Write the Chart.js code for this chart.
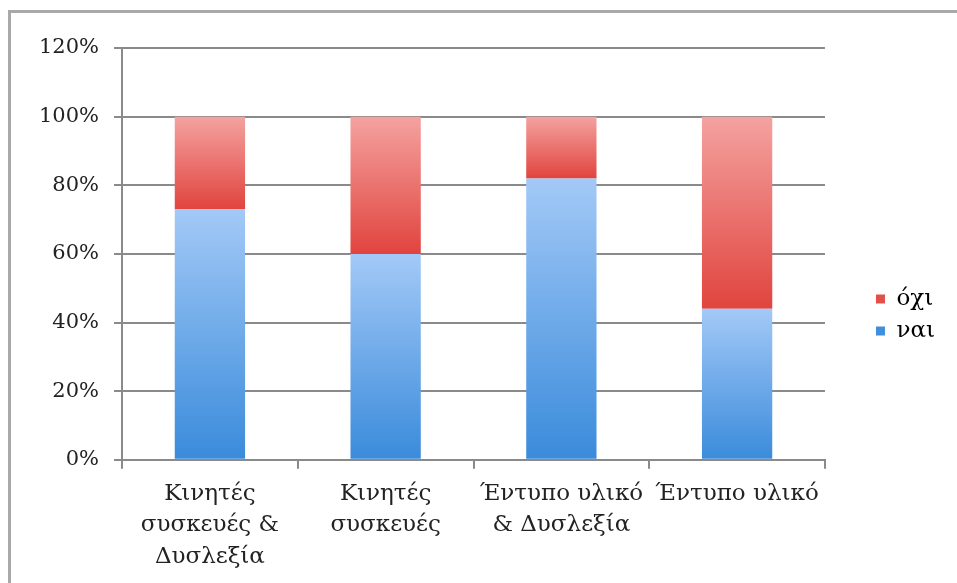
<!DOCTYPE html>
<html>
<head>
<meta charset="utf-8">
<script src="https://cdn.jsdelivr.net/npm/chart.js@4/dist/chart.umd.min.js"></script>
<style>
  html, body { margin: 0; padding: 0; background: #fff; }
  #wrap { position: relative; width: 957px; height: 583px; overflow: hidden; }
  #frame { position: absolute; left: 8px; top: 10px; width: 960px; height: 580px;
           border-left: 3px solid #a9a9a9; border-top: 3px solid #a9a9a9; box-sizing: border-box; }
  #chartBox { position: absolute; left: 0; top: 0; width: 957px; height: 583px; }
</style>
</head>
<body>
<div id="wrap">
  <div id="frame"></div>
  <div id="chartBox"><canvas id="survey"></canvas></div>
</div>
<script>
const categories = [
  ['Κινητές', 'συσκευές &', 'Δυσλεξία'],
  ['Κινητές', 'συσκευές'],
  ['Έντυπο υλικό', '& Δυσλεξία'],
  'Έντυπο υλικό'
]
const yes = [73, 60, 82, 44]
const no = [27, 40, 18, 56]
const yTicks = [0, 20, 40, 60, 80, 100, 120]

const FONT = "'DejaVu Serif', 'Liberation Serif', serif"

// vertical gradient over one stacked segment, light at the top, dark at the bottom
function segmentFill(light, dark, lower){
  return function(ctx){
    const chart = ctx.chart
    if (!chart.chartArea || ctx.type !== 'data') return dark
    const y = chart.scales.y
    const base = lower ? lower[ctx.dataIndex] : 0
    const top = y.getPixelForValue(base + ctx.raw)
    const bot = y.getPixelForValue(base)
    if (!isFinite(top) || !isFinite(bot) || top === bot) return dark
    const g = chart.ctx.createLinearGradient(0, top, 0, bot)
    g.addColorStop(0, light)
    g.addColorStop(1, dark)
    return g
  }
}

const chart = new Chart('survey', {
  type: 'bar',
  data: {
    labels: categories,
    datasets: [
      {
        label: 'ναι',
        data: yes,
        backgroundColor: segmentFill('#a3c9f7', '#3a8bdb'),
        borderWidth: 0
      },
      {
        label: 'όχι',
        data: no,
        backgroundColor: segmentFill('#f4a2a0', '#e1443e', yes),
        borderWidth: 0
      }
    ]
  },
  options: {
    responsive: true,
    maintainAspectRatio: false,
    animation: false,
    categoryPercentage: 1,
    barPercentage: 0.4,
    layout: { padding: { left: 24, top: 48, right: 12, bottom: 1 } },
    plugins: {
      tooltip: { enabled: false },
      legend: {
        position: 'right',
        align: 'center',
        reverse: true,
        labels: {
          boxWidth: 9,
          boxHeight: 9,
          padding: 9,
          color: '#222',
          font: { family: FONT, size: 23 },
          generateLabels(c){
            const colors = ['#3f8fdc', '#e2504a']
            return c.data.datasets.map((ds, i) => ({
              text: ds.label,
              fillStyle: colors[i],
              strokeStyle: colors[i],
              lineWidth: 0,
              datasetIndex: i,
              hidden: false
            }))
          }
        }
      }
    },
    scales: {
      x: {
        stacked: true,
        grid: { offset: true, drawOnChartArea: false, color: '#8a8a8a', lineWidth: 2, tickLength: 9 },
        border: { color: '#8a8a8a', width: 2 },
        ticks: {
          color: '#222',
          maxRotation: 0,
          autoSkip: false,
          padding: 9,
          font: { family: FONT, size: 23, lineHeight: 1.38 }
        }
      },
      y: {
        stacked: true,
        min: 0,
        max: 120,
        afterBuildTicks(axis){ axis.ticks = yTicks.map(v => ({ value: v })) },
        grid: { color: '#8a8a8a', lineWidth: 2, tickLength: 8 },
        border: { color: '#8a8a8a', width: 2 },
        ticks: {
          color: '#222',
          padding: 15,
          font: { family: FONT, size: 21 },
          callback: v => v + '%'
        }
      },
      // empty right-hand axis, only keeps a gap between the bars and the legend
      gap: {
        type: 'linear',
        position: 'right',
        display: true,
        grid: { display: false },
        border: { display: false },
        ticks: { display: false },
        afterFit(axis){ axis.width = 42 }
      }
    }
  }
})
</script>
</body>
</html>
